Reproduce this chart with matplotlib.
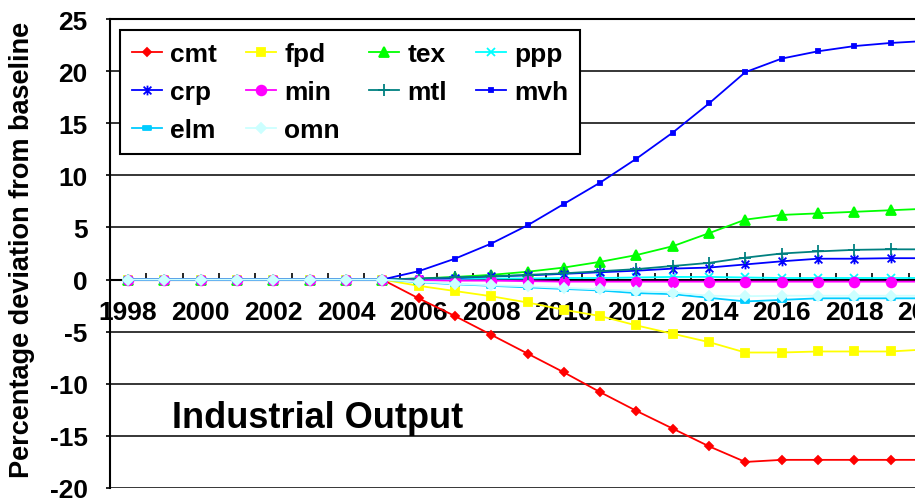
import matplotlib
matplotlib.use("Agg")
import matplotlib.pyplot as plt
from matplotlib.path import Path

plt.rcParams.update({"font.family": "Liberation Sans", "font.weight": "bold",
                     "axes.unicode_minus": False})

years = list(range(1998, 2021))

cmt = [0, 0, 0, 0, 0, 0, 0, 0, -1.8, -3.5, -5.3, -7.1, -8.9, -10.8, -12.6,
       -14.3, -16.0, -17.5, -17.3, -17.3, -17.3, -17.3, -17.3]
fpd = [0, 0, 0, 0, 0, 0, 0, 0, -0.6, -1.1, -1.6, -2.2, -2.9, -3.5, -4.4,
       -5.2, -6.0, -7.0, -7.0, -6.9, -6.9, -6.9, -6.7]
tex = [0, 0, 0, 0, 0, 0, 0, 0, 0.1, 0.25, 0.45, 0.75, 1.15, 1.7, 2.35,
       3.2, 4.45, 5.75, 6.2, 6.35, 6.5, 6.65, 6.8]
ppp = [0, 0, 0, 0, 0, 0, 0, 0, 0.0, 0.05, 0.1, 0.1, 0.15, 0.15, 0.2,
       0.25, 0.25, 0.2, 0.15, 0.15, 0.15, 0.15, 0.15]
crp = [0, 0, 0, 0, 0, 0, 0, 0, 0.05, 0.15, 0.3, 0.4, 0.55, 0.7, 0.85,
       1.05, 1.15, 1.45, 1.75, 2.0, 2.0, 2.05, 2.05]
mins = [0, 0, 0, 0, 0, 0, 0, 0, -0.05, -0.1, -0.1, -0.15, -0.2, -0.2, -0.2,
        -0.2, -0.2, -0.2, -0.2, -0.2, -0.2, -0.2, -0.2]
mtl = [0, 0, 0, 0, 0, 0, 0, 0, 0.1, 0.2, 0.3, 0.45, 0.6, 0.8, 1.0,
       1.3, 1.6, 2.1, 2.5, 2.7, 2.85, 2.9, 2.9]
mvh = [0, 0, 0, 0, 0, 0, 0, 0, 0.8, 2.0, 3.45, 5.2, 7.25, 9.3, 11.6,
       14.1, 16.9, 19.9, 21.2, 21.9, 22.4, 22.7, 22.9]
elm = [0, 0, 0, 0, 0, 0, 0, 0, -0.25, -0.45, -0.6, -0.75, -0.9, -1.05, -1.3,
       -1.4, -1.75, -2.1, -1.95, -1.8, -1.8, -1.8, -1.8]
omn = [0, 0, 0, 0, 0, 0, 0, 0, -0.2, -0.4, -0.55, -0.65, -0.8, -0.95, -1.1,
       -1.25, -1.55, -1.6, -1.55, -1.55, -1.55, -1.55, -1.55]

# asterisk like Excel's (x with a vertical bar) and a flat bar marker
star = Path([(-1, -1), (1, 1), (-1, 1), (1, -1), (0, -1.25), (0, 1.25)],
            [Path.MOVETO, Path.LINETO] * 3)
bar = Path([(-1, -0.5), (1, -0.5), (1, 0.5), (-1, 0.5), (-1, -0.5)],
           [Path.MOVETO, Path.LINETO, Path.LINETO, Path.LINETO, Path.CLOSEPOLY])

series = [
    ("cmt", cmt, "#FF0000", "D", 4.5),
    ("fpd", fpd, "#FFFF00", "s", 6),
    ("tex", tex, "#00FF00", "^", 7),
    ("ppp", ppp, "#00FFFF", "x", 6),
    ("crp", crp, "#0000FF", star, 7),
    ("min", mins, "#FF00FF", "o", 7),
    ("mtl", mtl, "#008080", "+", 8),
    ("mvh", mvh, "#0000FF", "s", 3.5),
    ("elm", elm, "#00CCFF", bar, 6),
    ("omn", omn, "#CCFFFF", "D", 5),
]

fig = plt.figure(figsize=(9.15, 5.02), dpi=100)
ax = fig.add_axes([110 / 915, 13 / 502, 835 / 915, 469 / 502])

lines = {}
for name, vals, col, mk, ms in series:
    ln, = ax.plot(years, vals, color=col, linewidth=1.3, marker=mk,
                  markersize=ms, markerfacecolor=col, markeredgecolor=col,
                  markeredgewidth=1.3, label=name, zorder=3, clip_on=False)
    lines[name] = ln

ax.set_xlim(1997.5, 2020.5)
ax.set_ylim(-20, 25)
ax.set_yticks(range(-20, 26, 5))
ax.yaxis.grid(True, color="black", linewidth=1.1)
ax.set_axisbelow(True)

ax.spines["bottom"].set_position(("data", 0))
ax.spines["right"].set_visible(False)
for s in ["left", "top", "bottom"]:
    ax.spines[s].set_linewidth(1.5)

ax.set_xticks(years[::2])
ax.set_xticklabels([str(y) for y in years[::2]])
ax.set_xticks([y + 0.5 for y in years], minor=True)
ax.tick_params(axis="x", which="major", length=0, pad=15, labelsize=19)
ax.tick_params(axis="x", which="minor", direction="in", length=5, width=1.2)
ax.tick_params(axis="y", direction="out", length=3, width=1.2, pad=13,
               labelsize=19)

ax.set_ylabel("Percentage deviation from baseline", fontsize=19.5,
              fontweight="bold", va="center")
ax.yaxis.set_label_coords(-0.1054, 0.51)

ax.text(0.0743, 0.13, "Industrial Output", transform=ax.transAxes,
        fontsize=26, fontweight="bold", ha="left", va="baseline")

order = ["cmt", "crp", "elm", "fpd", "min", "omn", "tex", "mtl", "ppp", "mvh"]
leg = ax.legend([lines[n] for n in order], order, ncol=4, loc="upper left",
                bbox_to_anchor=(120 / 915, 1 - 31 / 502),
                bbox_transform=fig.transFigure, borderaxespad=0,
                fontsize=19, fancybox=False, edgecolor="black",
                framealpha=1, handlelength=1.15, handletextpad=0.3,
                columnspacing=1.1, labelspacing=0.54, borderpad=0.45)
leg.get_frame().set_linewidth(1.5)

fig.savefig("out.png", dpi=100)
